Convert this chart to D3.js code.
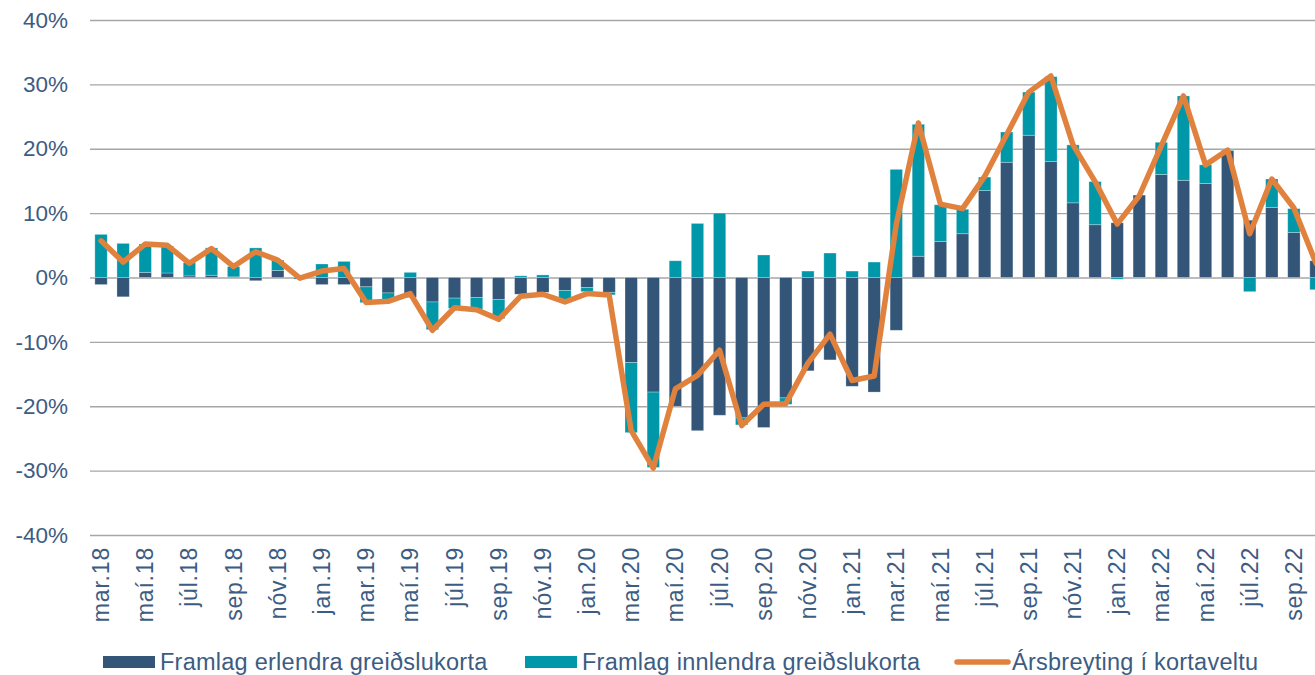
<!DOCTYPE html>
<html>
<head>
<meta charset="utf-8">
<script src="https://cdn.jsdelivr.net/npm/d3@7"></script>
<style>
  html, body { margin: 0; padding: 0; background: #ffffff; }
  svg { display: block; font-family: "Liberation Sans", Arial, sans-serif; }
</style>
</head>
<body>
<svg id="chart" width="1315" height="675"></svg>
<script>
// ---- Data (percent) ----
const months = [
  "mar.18","apr.18","maí.18","jún.18","júl.18","ágú.18","sep.18","okt.18","nóv.18","des.18",
  "jan.19","feb.19","mar.19","apr.19","maí.19","jún.19","júl.19","ágú.19","sep.19","okt.19","nóv.19","des.19",
  "jan.20","feb.20","mar.20","apr.20","maí.20","jún.20","júl.20","ágú.20","sep.20","okt.20","nóv.20","des.20",
  "jan.21","feb.21","mar.21","apr.21","maí.21","jún.21","júl.21","ágú.21","sep.21","okt.21","nóv.21","des.21",
  "jan.22","feb.22","mar.22","apr.22","maí.22","jún.22","júl.22","ágú.22","sep.22","okt.22"
];
// Framlag erlendra greiðslukorta (foreign cards contribution)
const foreign = [
  -1.1,-3.0,0.8,0.7,0.25,0.35,0.1,-0.5,1.1,0.05,
  -1.1,-1.1,-1.45,-2.4,-3.1,-3.8,-3.2,-3.1,-3.4,-2.6,-2.3,-2.0,
  -1.55,-2.3,-13.2,-17.8,-20.0,-23.8,-21.4,-21.8,-23.3,-18.7,-14.5,-12.8,
  -16.9,-17.8,-8.2,3.3,5.6,6.8,13.5,17.9,22.1,18.0,11.6,8.2,
  8.5,12.8,16.0,15.1,14.6,19.7,8.9,10.9,7.0,2.6
];
// Framlag innlendra greiðslukorta (domestic cards contribution)
const domestic = [
  6.7,5.3,4.4,4.2,2.05,4.25,1.6,4.6,1.6,-0.25,
  2.1,2.5,-2.45,-1.0,0.8,-4.3,-1.6,-1.8,-3.0,0.26,0.4,-1.4,
  -0.65,-0.4,-10.9,-11.7,2.6,8.4,10.0,-1.1,3.5,-1.0,1.0,3.8,
  1.0,2.4,16.8,20.5,5.7,3.8,2.1,4.7,6.7,13.2,9.0,6.7,
  -0.26,-0.1,5.0,13.1,2.9,0.1,-2.2,4.4,3.7,-1.9
];
// Ársbreyting í kortaveltu (annual change in card turnover)
const total = [
  5.7,2.4,5.2,5.0,2.2,4.5,1.7,4.0,2.7,-0.1,
  1.0,1.4,-3.9,-3.7,-2.5,-8.2,-4.7,-5.0,-6.5,-2.9,-2.6,-3.8,
  -2.5,-2.7,-23.8,-29.6,-17.3,-15.2,-11.3,-23.0,-19.7,-19.6,-13.3,-8.8,
  -16.0,-15.3,8.3,24.0,11.4,10.7,15.7,22.2,28.8,31.3,20.6,14.9,
  8.3,12.7,20.5,28.2,17.5,19.8,6.8,15.3,10.8,2.2
];
const yTicks = [-40,-30,-20,-10,0,10,20,30,40];
const seriesNames = ["Framlag erlendra greiðslukorta","Framlag innlendra greiðslukorta","Ársbreyting í kortaveltu"];

// ---- Styles ----
const colForeign = "#325578";
const colDomestic = "#0097A9";
const colLine = "#E0823D";
const colText = "#3d5c82";
const colGrid = "#a6a6a6";

const svg = d3.select("#chart");
const W = 1315;
const plotLeft = 90, plotTop = 20, plotBottom = 535;
const step = 22.09;

const table = months.map((m, i) => ({ month: m, foreign: foreign[i], domestic: domestic[i], total: total[i] }));

const x = d3.scaleBand()
  .domain(months)
  .range([plotLeft, plotLeft + step * months.length])
  .paddingInner(0.44)
  .paddingOuter(0.22);

const y = d3.scaleLinear().domain([-40, 40]).range([plotBottom, plotTop]);

// Grid + y labels
const yAxis = d3.axisLeft(y)
  .tickValues(yTicks)
  .tickFormat(d => d + "%")
  .tickSizeInner(-(W - plotLeft))
  .tickSizeOuter(0)
  .tickPadding(22);
const gy = svg.append("g").attr("transform", `translate(${plotLeft},0)`).call(yAxis);
gy.select(".domain").remove();
gy.selectAll(".tick line").attr("stroke", colGrid).attr("stroke-width", 1.4);
gy.selectAll(".tick text")
  .attr("fill", colText)
  .attr("font-size", "22.5px")
  .attr("font-family", "'Liberation Sans', Arial, sans-serif");

// Stacked bars (diverging)
const stack = d3.stack().keys(["foreign", "domestic"]).offset(d3.stackOffsetDiverging);
const layers = stack(table);
const colors = { foreign: colForeign, domestic: colDomestic };
svg.append("g").selectAll("g")
  .data(layers)
  .join("g")
  .attr("fill", d => colors[d.key])
  .selectAll("rect")
  .data(d => d)
  .join("rect")
  .attr("x", d => x(d.data.month))
  .attr("width", x.bandwidth())
  .attr("y", d => y(Math.max(d[0], d[1])))
  .attr("height", d => Math.abs(y(d[0]) - y(d[1])))
  .attr("stroke", "rgba(255,255,255,0.35)")
  .attr("stroke-width", 0.8);

// Line
const line = d3.line()
  .x(d => x(d.month) + x.bandwidth() / 2)
  .y(d => y(d.total));
svg.append("path")
  .datum(table)
  .attr("d", line)
  .attr("fill", "none")
  .attr("stroke", colLine)
  .attr("stroke-width", 5.5)
  .attr("stroke-linejoin", "round")
  .attr("stroke-linecap", "round");

// X axis labels
const xAxis = d3.axisBottom(x)
  .tickValues(months.filter((m, i) => i % 2 === 0))
  .tickSize(0);
const gx = svg.append("g").attr("transform", `translate(0,${plotBottom})`).call(xAxis);
gx.select(".domain").remove();
gx.selectAll(".tick text")
  .attr("fill", colText)
  .attr("font-size", "23px")
  .attr("letter-spacing", "0.8px")
  .attr("font-family", "'Liberation Sans', Arial, sans-serif")
  .attr("text-anchor", "end")
  .attr("transform", "rotate(-90)")
  .attr("x", -12)
  .attr("y", 0)
  .attr("dy", "0.35em");

// Legend
const legend = svg.append("g").attr("font-family", "'Liberation Sans', Arial, sans-serif");
const legItems = [
  { name: seriesNames[0], type: "rect", color: colForeign, x: 103 },
  { name: seriesNames[1], type: "rect", color: colDomestic, x: 525 },
  { name: seriesNames[2], type: "line", color: colLine, x: 955 }
];
legItems.forEach(it => {
  if (it.type === "rect") {
    legend.append("rect").attr("x", it.x).attr("y", 656).attr("width", 52).attr("height", 12).attr("fill", it.color);
  } else {
    legend.append("line").attr("x1", it.x + 2).attr("x2", it.x + 53).attr("y1", 662).attr("y2", 662)
      .attr("stroke", it.color).attr("stroke-width", 5.5).attr("stroke-linecap", "round");
  }
  legend.append("text")
    .attr("x", it.x + 57)
    .attr("y", 670)
    .attr("fill", colText)
    .attr("font-size", "23.5px")
    .attr("letter-spacing", "0.25px")
    .text(it.name);
});
</script>
</body>
</html>
